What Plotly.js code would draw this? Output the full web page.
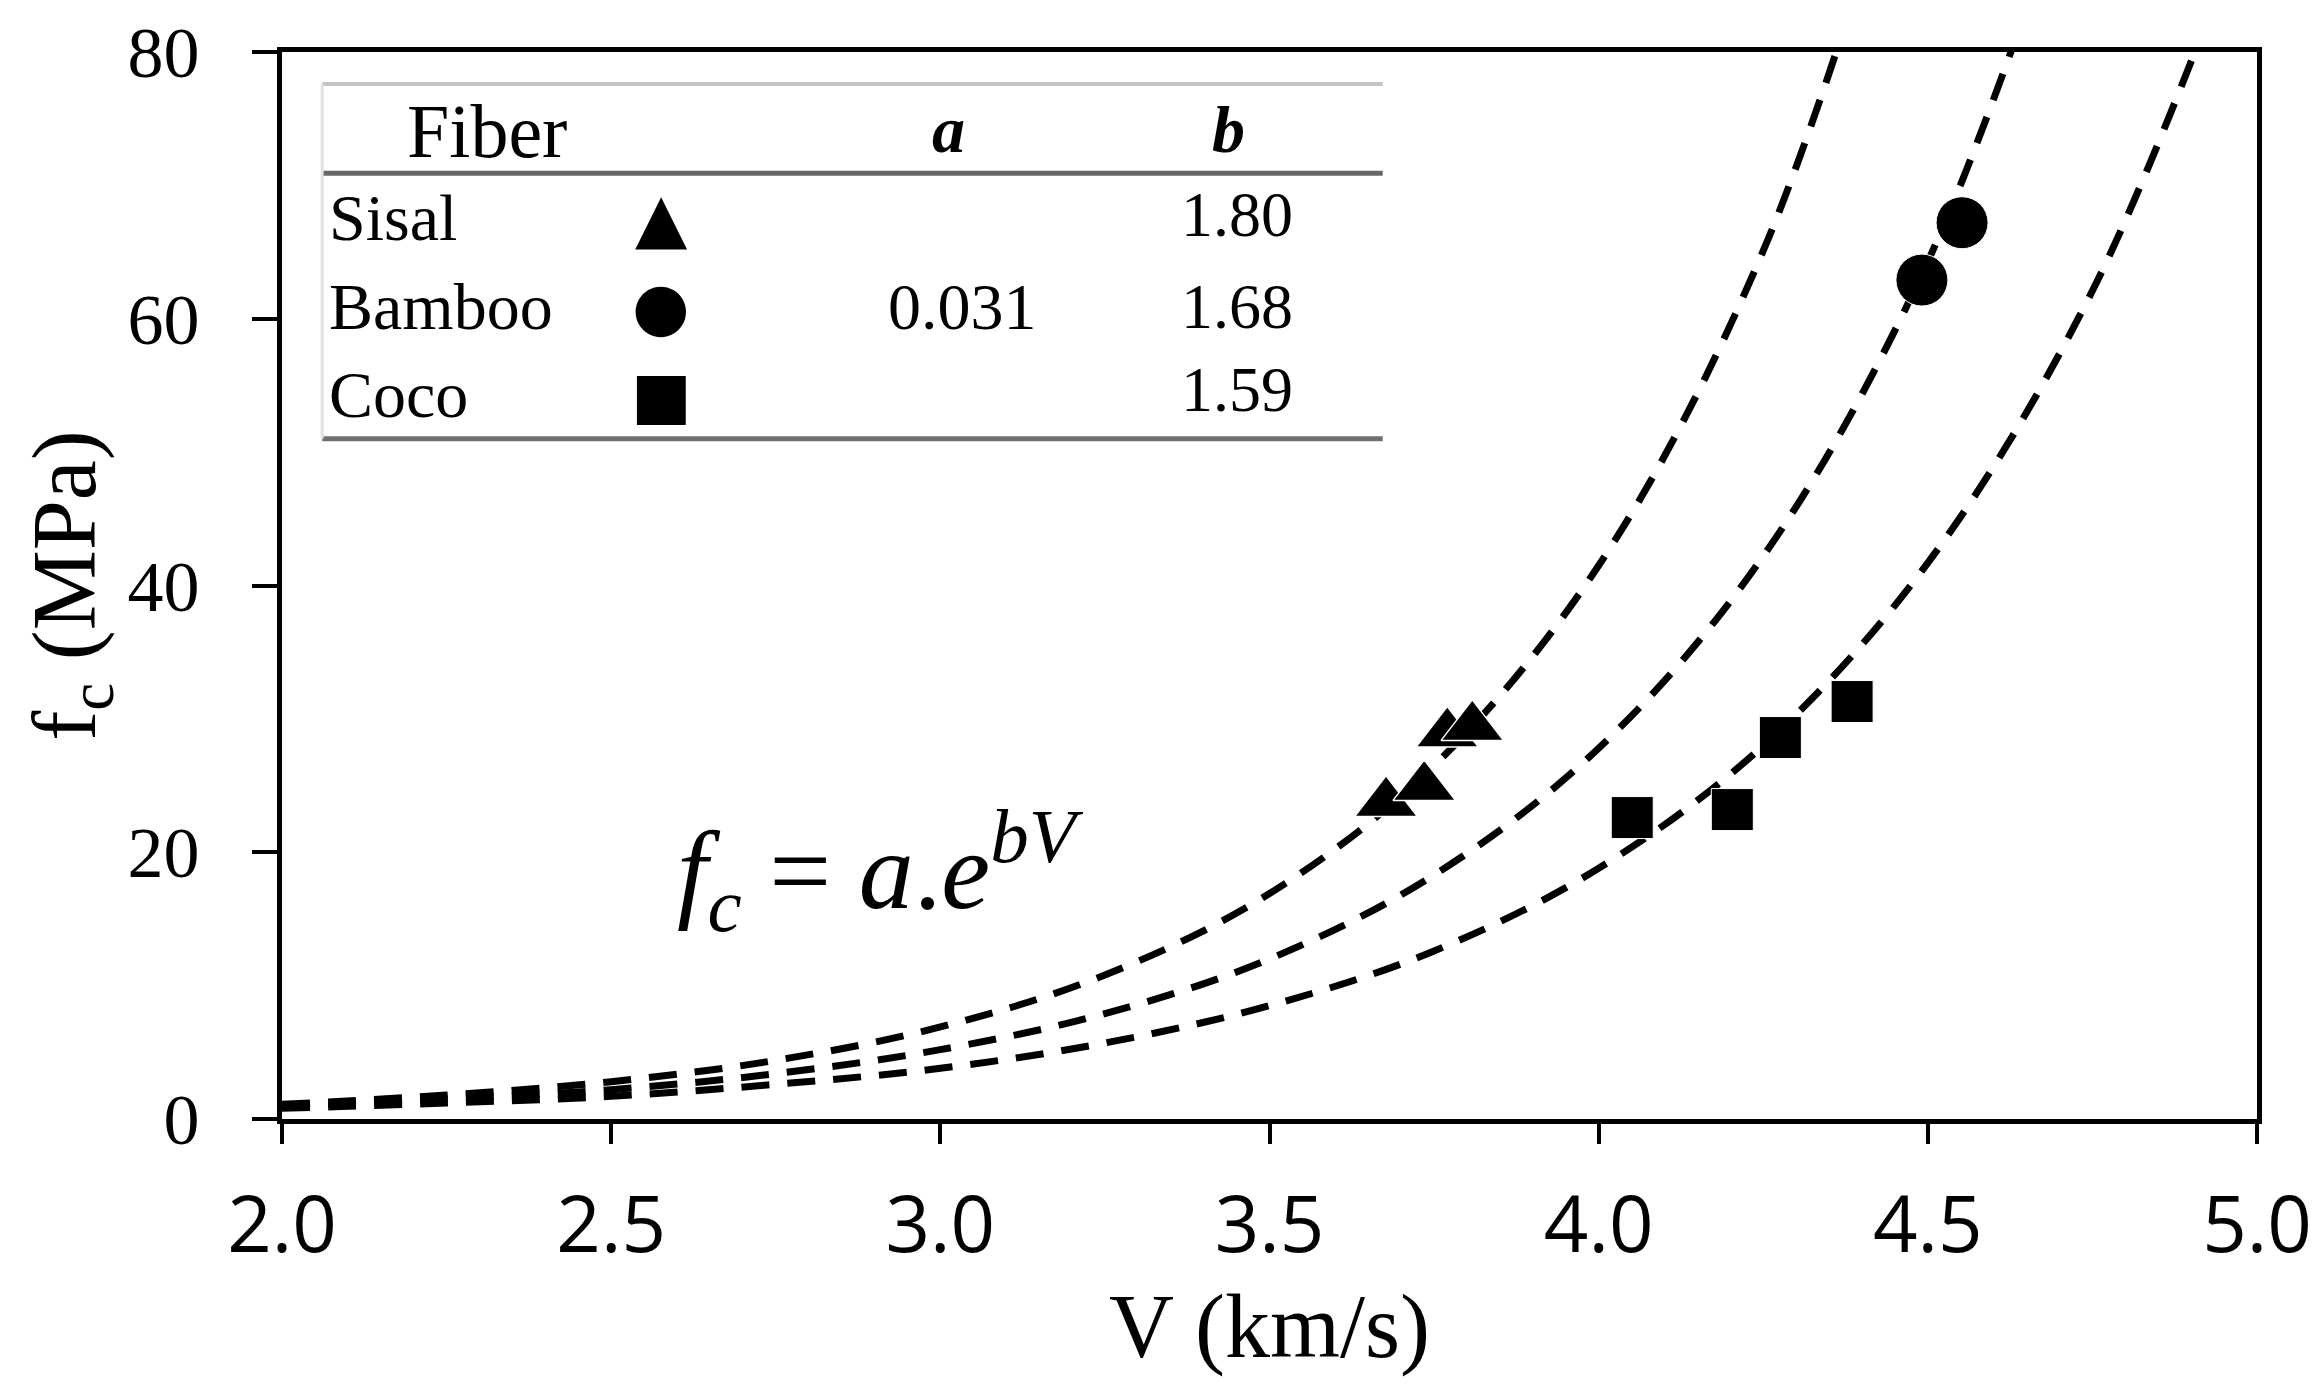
<!DOCTYPE html>
<html>
<head>
<meta charset="utf-8">
<script src="https://cdn.plot.ly/plotly-3.0.1.min.js"></script>
<style>html,body{margin:0;padding:0;background:#fff;}#chart{width:2319px;height:1397px;}</style>
</head>
<body>
<div id="chart"></div>
<script>
// ---- data ----
const fitV = [2.0, 2.25, 2.5, 2.75, 3.0, 3.25, 3.5, 3.75, 4.0, 4.25, 4.5, 4.75, 5.0];
const sisalFit  = [1.1, 1.8, 2.8, 4.4, 6.9, 10.8, 16.9, 26.5, 41.5, 65.1, 102];
const bambooFit = [1.0, 1.5, 2.2, 3.4, 5.2, 7.9, 12.0, 18.3, 27.8, 42.2, 64.3, 97.8];
const cocoFit   = [0.8, 1.2, 1.7, 2.6, 3.8, 5.7, 8.5, 12.6, 18.8, 28.0, 41.7, 62.1, 92.3];

const sisalV  = [3.677, 3.735, 3.770, 3.808];
const sisalF  = [23.7, 24.9, 28.9, 29.4];
const bambooV = [4.491, 4.552];
const bambooF = [62.9, 67.2];
const cocoV   = [4.051, 4.203, 4.276, 4.385];
const cocoF   = [22.6, 23.2, 28.6, 31.3];

const fibers  = ["Sisal", "Bamboo", "Coco"];
const symbols = ["▲", "●", "■"];
const aValue  = "0.031";
const bValues = ["1.80", "1.68", "1.59"];
const xTicks  = [2.0, 2.5, 3.0, 3.5, 4.0, 4.5, 5.0];
const yTicks  = [0, 20, 40, 60, 80];

// ---- traces ----
const dashLine = {color: "#000", width: 7, dash: "28px,18px", shape: "spline"};
const traces = [
  {x: fitV.slice(0, sisalFit.length), y: sisalFit, mode: "lines", line: dashLine, hoverinfo: "skip"},
  {x: fitV.slice(0, bambooFit.length), y: bambooFit, mode: "lines", line: dashLine, hoverinfo: "skip"},
  {x: fitV.slice(0, cocoFit.length), y: cocoFit, mode: "lines", line: dashLine, hoverinfo: "skip"},
  {x: sisalV, y: sisalF, mode: "markers", marker: {symbol: "triangle-up", size: 54, color: "#000", line: {color: "#fff", width: 1.5}}},
  {x: bambooV, y: bambooF, mode: "markers", marker: {symbol: "circle", size: 52, color: "#000", line: {color: "#fff", width: 1}}},
  {x: cocoV, y: cocoF, mode: "markers", marker: {symbol: "square", size: 42, color: "#000", line: {color: "#fff", width: 1}}}
];

// ---- table (annotations + shapes) ----
const serif = "Liberation Serif";
const rowY = [67.6, 60.9, 54.3];
const bY   = [67.8, 60.9, 54.7];
const annotations = [];
annotations.push({x: 2.311, y: 74.1, text: "Fiber", showarrow: false, xanchor: "center", yanchor: "middle", font: {family: serif, size: 76, color: "#000"}});
annotations.push({x: 3.012, y: 74.2, text: "<b><i>a</i></b>", showarrow: false, xanchor: "center", yanchor: "middle", font: {family: serif, size: 66, color: "#000"}});
annotations.push({x: 3.437, y: 74.2, text: "<b><i>b</i></b>", showarrow: false, xanchor: "center", yanchor: "middle", font: {family: serif, size: 66, color: "#000"}});
fibers.forEach((f, i) => {
  annotations.push({x: 2.068, y: rowY[i], text: f, showarrow: false, xanchor: "left", yanchor: "middle", font: {family: serif, size: 66, color: "#000"}});
  annotations.push({x: 2.576, y: rowY[i], text: symbols[i], showarrow: false, xanchor: "center", yanchor: "middle", font: {family: "DejaVu Sans", size: i === 0 ? 68 : (i === 1 ? 66 : 64), color: "#000"}});
  annotations.push({x: 3.451, y: bY[i], text: bValues[i], showarrow: false, xanchor: "center", yanchor: "middle", font: {family: serif, size: 64, color: "#000"}});
});
annotations.push({x: 3.033, y: 60.9, text: aValue, showarrow: false, xanchor: "center", yanchor: "middle", font: {family: serif, size: 66, color: "#000"}});
// equation
annotations.push({x: 2.597, y: 18.6, text: "<i>f<sub>c</sub></i> = <i>a</i>.<i>e<sup>bV</sup></i>", showarrow: false, xanchor: "left", yanchor: "middle", font: {family: serif, size: 110, color: "#000"}});

const shapes = [
  {type: "line", xref: "x", yref: "y", x0: 2.061, x1: 3.672, y0: 77.6, y1: 77.6, line: {color: "#c4c4c4", width: 4}},
  {type: "line", xref: "x", yref: "y", x0: 2.061, x1: 3.672, y0: 70.9, y1: 70.9, line: {color: "#666", width: 5}},
  {type: "line", xref: "x", yref: "y", x0: 2.061, x1: 3.672, y0: 51.0, y1: 51.0, line: {color: "#707070", width: 5}},
  {type: "line", xref: "x", yref: "y", x0: 2.061, x1: 2.061, y0: 51.0, y1: 77.6, line: {color: "#e2e2e2", width: 3}}
];

const layout = {
  width: 2319, height: 1397,
  margin: {l: 282, r: 62, t: 52, b: 278},
  paper_bgcolor: "#fff", plot_bgcolor: "#fff",
  showlegend: false,
  xaxis: {
    range: [2, 5], tickvals: xTicks, ticktext: xTicks.map(v => v.toFixed(1)),
    showgrid: false, zeroline: false,
    showline: true, linecolor: "#000", linewidth: 5, mirror: true,
    ticks: "outside", ticklen: 20, tickwidth: 4, tickcolor: "#000",
    ticklabelstandoff: 14,
    tickfont: {family: "Open Sans", size: 78, color: "#000"},
    title: {text: "V (km/s)", font: {family: serif, size: 90, color: "#000"}, standoff: 22}
  },
  yaxis: {
    range: [0, 80], tickvals: yTicks,
    showgrid: false, zeroline: false,
    showline: true, linecolor: "#000", linewidth: 5, mirror: true,
    ticks: "outside", ticklen: 25, tickwidth: 4, tickcolor: "#000",
    ticklabelstandoff: 38,
    tickfont: {family: serif, size: 72, color: "#000"},
    title: {text: "f<sub>c</sub> (MPa)", font: {family: serif, size: 90, color: "#000"}, standoff: 4}
  },
  annotations: annotations,
  shapes: shapes
};

Plotly.newPlot("chart", traces, layout, {staticPlot: true, displayModeBar: false});
</script>
</body>
</html>
